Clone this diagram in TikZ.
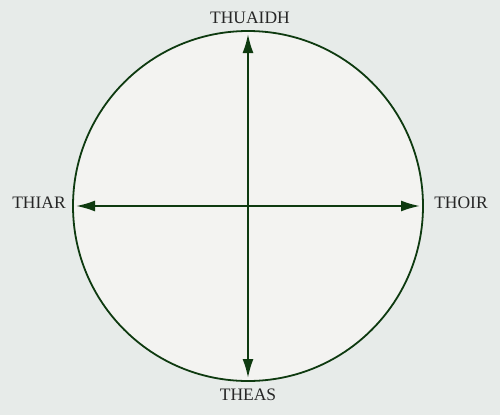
\documentclass[tikz,border=0pt]{standalone}
\usepackage{fontspec}
\setmainfont{Liberation Serif}
\usetikzlibrary{arrows.meta}
\definecolor{pagebg}{HTML}{E7EBE9}
\definecolor{discfill}{HTML}{F3F3F1}
\definecolor{rimgreen}{HTML}{0E3A10}
\begin{document}
\begin{tikzpicture}[x=1pt,y=-1pt,
    compass/.style={font=\fontsize{17.5}{17.5}\selectfont, text=black!85, inner sep=0pt},
    pointer/.style={-{Latex[length=19pt,width=11pt]}, line width=2pt, rimgreen}]
      \fill[pagebg] (0,0) rectangle (500,415);
      \filldraw[fill=discfill, draw=rimgreen, line width=1.8pt] (248,206) circle (175);
      \draw
        (248,206) coordinate (c)
        (248,34) coordinate (n)
        (248,378) coordinate (s)
        (76,206) coordinate (w)
        (420,206) coordinate (e);
      \node[compass] (north) at (250,18) {THUAIDH};
      \node[compass] (south) at (248,395) {THEAS};
      \node[compass] (west) at (39,203) {THIAR};
      \node[compass] (east) at (461,203) {THOIR};
      \begin{scope}[pointer]
        \draw (c) to (n);
        \draw (c) to (s);
        \draw (c) to (w);
        \draw (c) to (e);
      \end{scope}
    \end{tikzpicture}
\end{document}
